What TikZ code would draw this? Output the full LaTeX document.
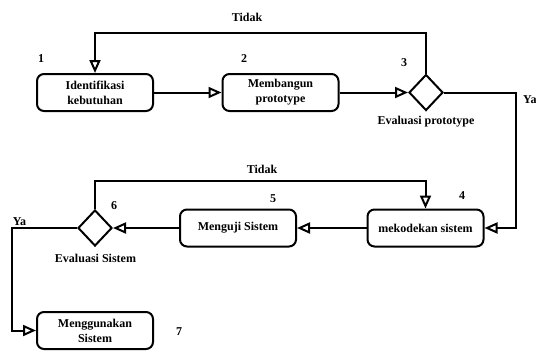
\documentclass[tikz,border=0pt]{standalone}
\usepackage{fontspec}
\setmainfont{Liberation Serif}
\usetikzlibrary{arrows.meta,shapes.geometric}
\begin{document}
\begin{tikzpicture}[x=1pt,y=-1pt,
  box/.style={draw, line width=2pt, rounded corners=7pt, minimum width=116pt, minimum height=37pt, align=center, font=\fontsize{12}{15}\selectfont\bfseries, inner sep=0pt},
  dec/.style={draw, diamond, line width=2pt, minimum width=34pt, minimum height=36pt, inner sep=0pt},
  conn/.style={line width=2pt, -{Triangle[open, length=13pt, width=11pt, line width=2pt]}},
  lbl/.style={font=\fontsize{12}{14}\selectfont\bfseries, inner sep=0pt},
  ]
\useasboundingbox (0,0) rectangle (536,354);
\node[box] (b1) at (95,92.5) {Identifikasi\\kebutuhan};
\node[box] (b2) at (280.5,92.5) {Membangun\\prototype};
\node[dec] (d3) at (426,92.5) {};
\node[box] (b4) at (425.5,228) {mekodekan sistem};
\node[box] (b5) at (238,228) {Menguji Sistem};
\node[dec] (d6) at (95,228) {};
\node[box] (b7) at (95,330.5) {Menggunakan\\Sistem};
\coordinate (top1) at (0,33);
\coordinate (top2) at (0,181);
\coordinate (ya1) at (516,0);
\coordinate (ya2) at (12,0);
\draw[conn] (b1) -- (b2);
\draw[conn] (b2) -- (d3);
\draw[conn] (d3.north) -- (d3.north |- top1) -| (b1.north);
\draw[conn] (d3.east) -| (ya1 |- b4) -- (b4.east);
\draw[conn] (b4) -- (b5);
\draw[conn] (b5) -- (d6);
\draw[conn] (d6.north) -- (d6.north |- top2) -| (b4.north);
\draw[conn] (d6.west) -| (ya2 |- b7) -- (b7.west);
\node[lbl] (t1) at (247,17) {Tidak};
\node[lbl] (t2) at (262,169) {Tidak};
\node[lbl, anchor=west] (y1) at (523,100) {Ya};
\node[lbl] (y2) at (19.5,222) {Ya};
\node[lbl] (e3) at (426,122) {Evaluasi prototype};
\node[lbl] (e6) at (95.5,258) {Evaluasi Sistem};
\node[lbl] (n1) at (41,59) {1};
\node[lbl] (n2) at (244,59) {2};
\node[lbl] (n3) at (404,63) {3};
\node[lbl] (n4) at (462,196) {4};
\node[lbl] (n5) at (273,199) {5};
\node[lbl] (n6) at (114,206) {6};
\node[lbl] (n7) at (179,332) {7};
\end{tikzpicture}
\end{document}
